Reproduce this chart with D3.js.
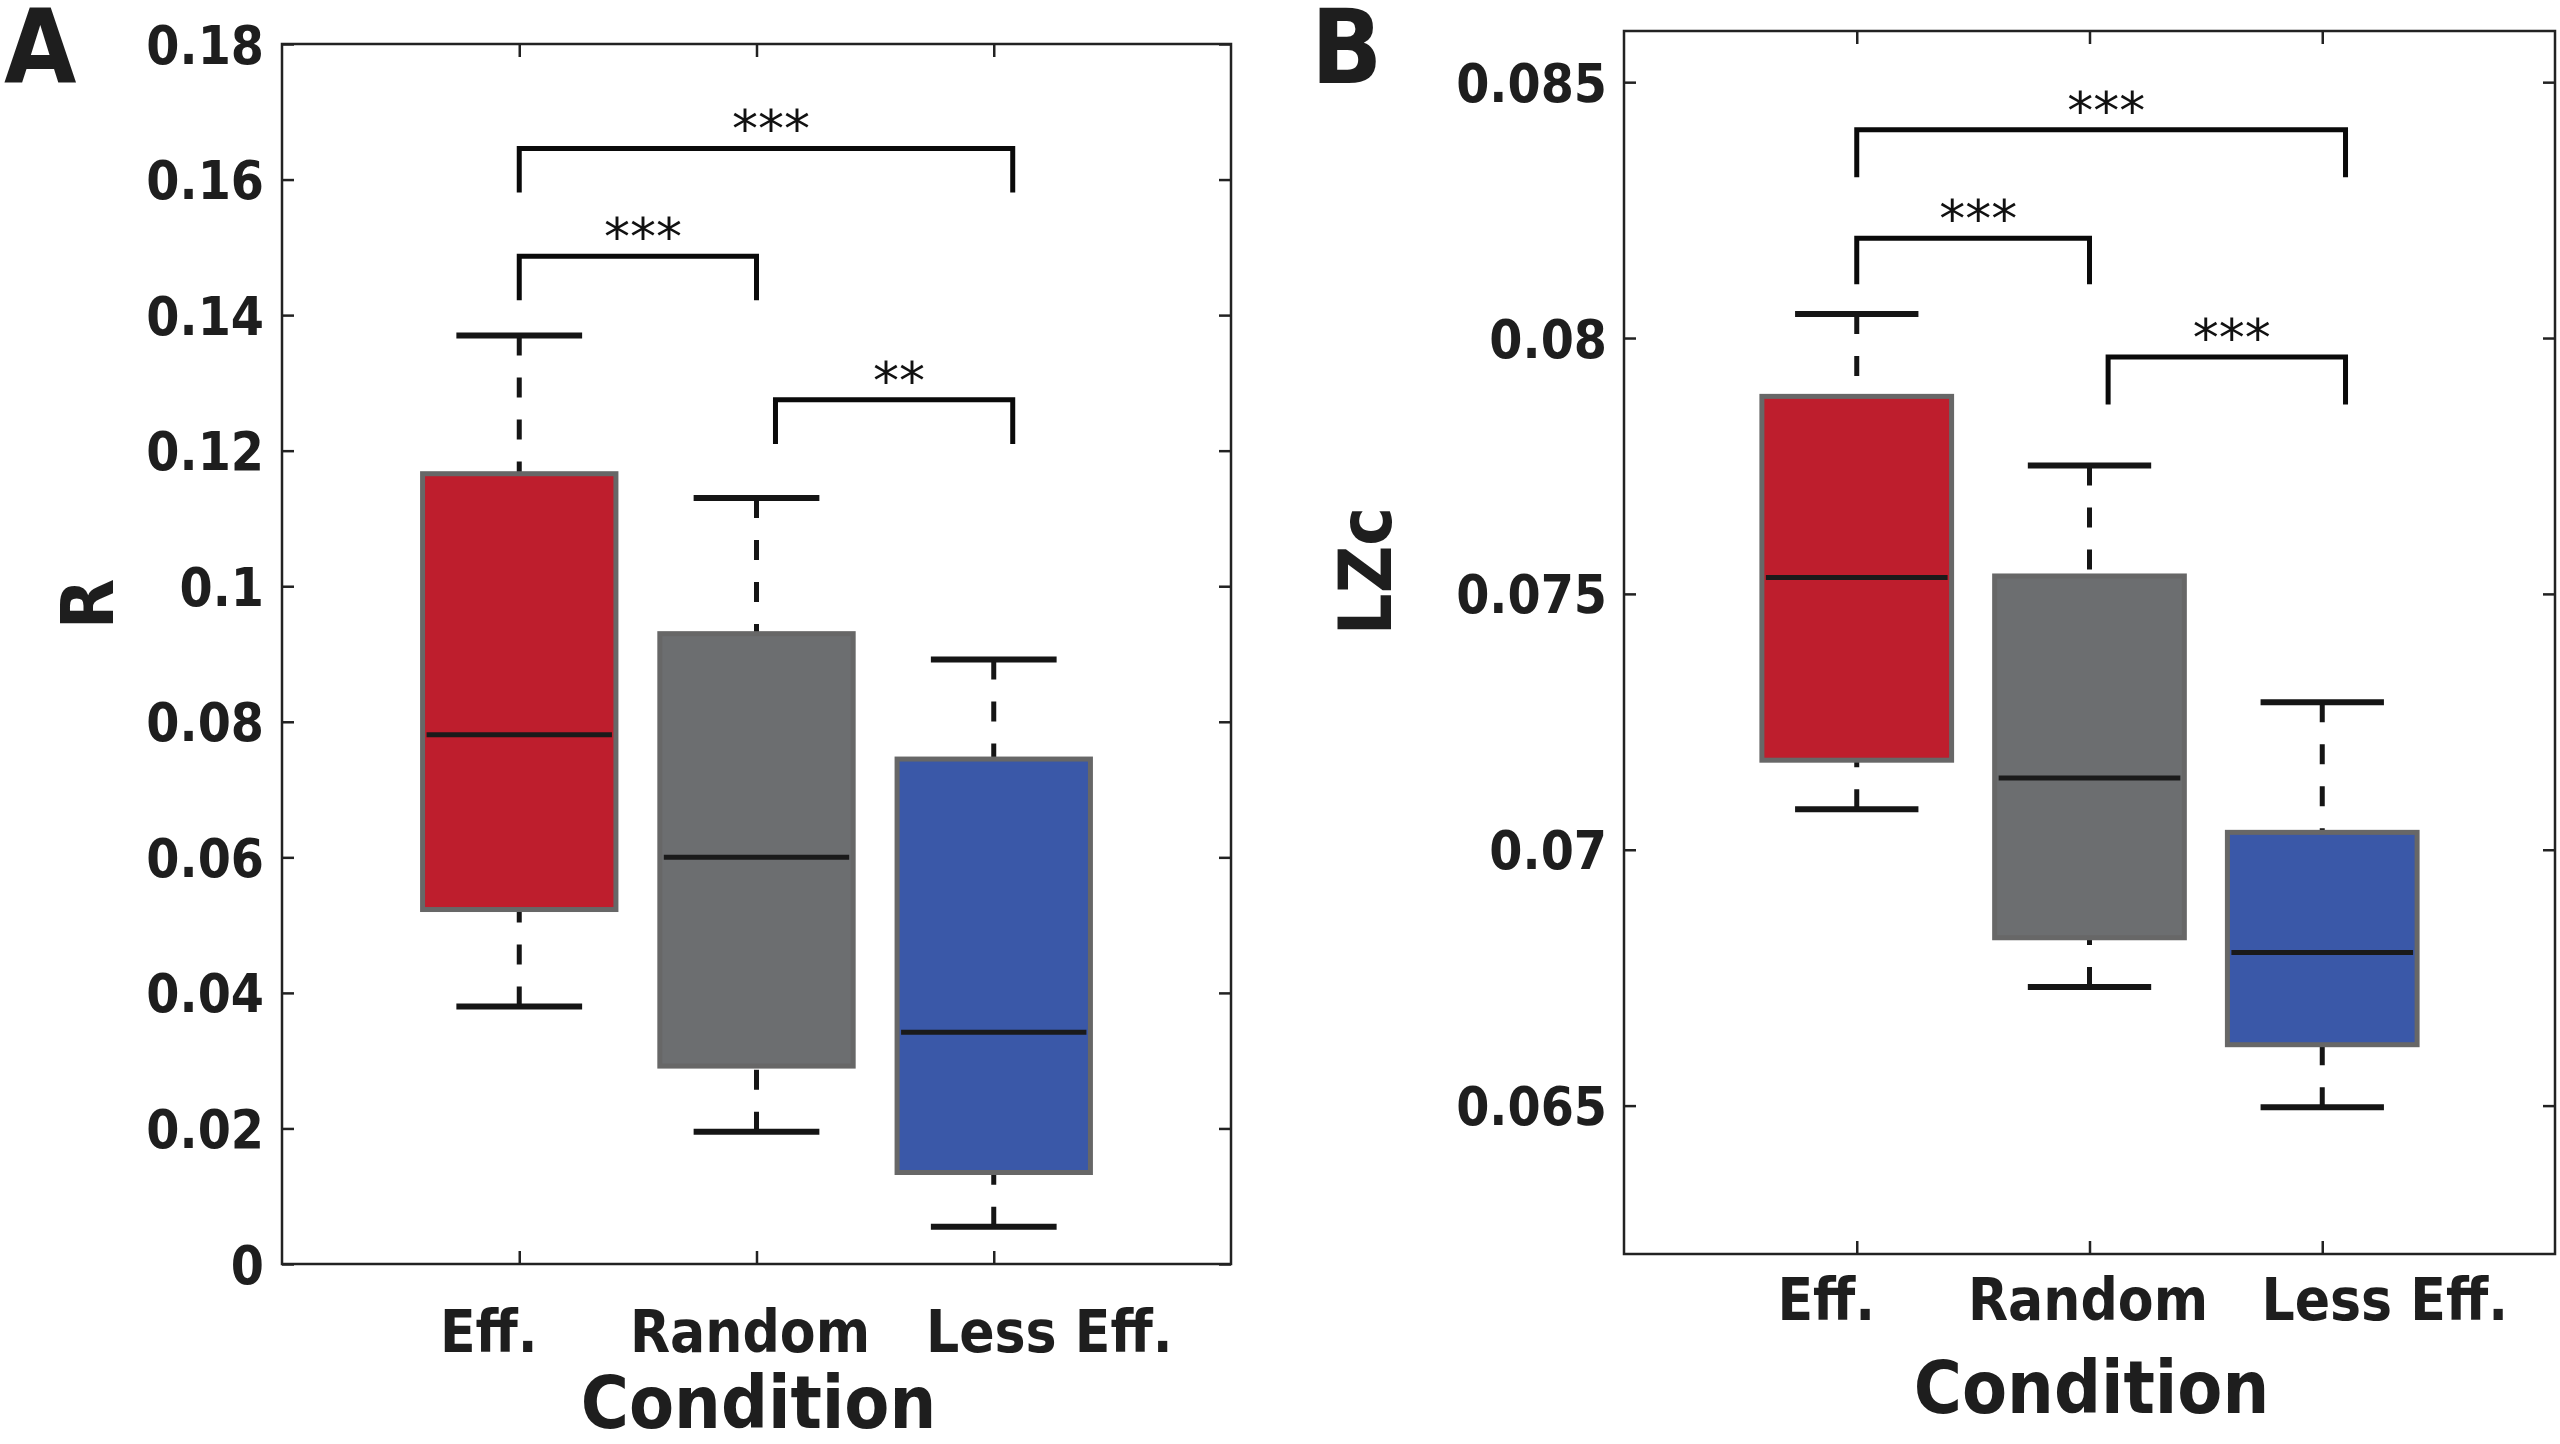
<!DOCTYPE html>
<html>
<head>
<meta charset="utf-8">
<script src="https://cdn.jsdelivr.net/npm/d3@7"></script>
<style>
  html, body { margin: 0; padding: 0; background: #ffffff; }
  svg { display: block; }
  text { font-family: "DejaVu Sans Condensed", "DejaVu Sans", sans-serif; font-stretch: condensed; font-weight: bold; fill: #1e1e1e; }
  .stars { font-family: "DejaVu Sans", sans-serif; font-weight: normal; font-stretch: normal; fill: #111; }
</style>
</head>
<body>
<svg id="chart" width="2560" height="1444"></svg>
<script>
// ---------------- DATA ----------------
const categories = ["Eff.", "Random", "Less Eff."];
const categoryPos = [1, 2, 3];
const boxColors = ["#BE1E2D", "#6C6E70", "#3A58A8"];

// Panel A: R
const rWhiskerHigh = [0.1370, 0.1130, 0.0892];
const rQ3          = [0.1166, 0.0930, 0.0745];
const rMedian      = [0.0781, 0.0600, 0.0342];
const rQ1          = [0.0523, 0.0292, 0.0135];
const rWhiskerLow  = [0.0380, 0.0195, 0.0055];
const rTicks       = [0, 0.02, 0.04, 0.06, 0.08, 0.1, 0.12, 0.14, 0.16, 0.18];
const rTickLabels  = ["0", "0.02", "0.04", "0.06", "0.08", "0.1", "0.12", "0.14", "0.16", "0.18"];
const rDomain      = [0, 0.18];
const rSigFrom     = [1, 1, 2.08];
const rSigTo       = [3.08, 2, 3.08];
const rSigTop      = [0.1646, 0.1487, 0.1275];
const rSigLegEnd   = [0.1581, 0.1422, 0.1210];
const rSigLabels   = ["***", "***", "**"];

// Panel B: LZc
const lzcWhiskerHigh = [0.08047, 0.07751, 0.07288];
const lzcQ3          = [0.07886, 0.07535, 0.07034];
const lzcMedian      = [0.07532, 0.07140, 0.06799];
const lzcQ1          = [0.07175, 0.06828, 0.06619];
const lzcWhiskerLow  = [0.07079, 0.06732, 0.06497];
const lzcTicks       = [0.065, 0.07, 0.075, 0.08, 0.085];
const lzcTickLabels  = ["0.065", "0.07", "0.075", "0.08", "0.085"];
const lzcDomain      = [0.0621, 0.0860];
const lzcSigFrom     = [1, 1, 2.08];
const lzcSigTo       = [3.1, 2, 3.1];
const lzcSigTop      = [0.08407, 0.08195, 0.07963];
const lzcSigLegEnd   = [0.08314, 0.08105, 0.07870];
const lzcSigLabels   = ["***", "***", "***"];

const xDomain = [0, 4];
const xAxisTitle = "Condition";

// ---------------- LAYOUT ----------------
const panels = [
  {
    letter: "A", letterX: 4, letterY: 83,
    left: 282, right: 1231, top: 44, bottom: 1264,
    domain: rDomain, ticks: rTicks, tickLabels: rTickLabels,
    hi: rWhiskerHigh, q3: rQ3, med: rMedian, q1: rQ1, lo: rWhiskerLow,
    sigFrom: rSigFrom, sigTo: rSigTo, sigTop: rSigTop, sigLeg: rSigLegEnd, sigLabels: rSigLabels,
    yTitle: "R", yTitleX: 113, yTitleY: 604,
    yPad: 18, xPad: 47, xLabelShift: [-31, -7, 55],
    xTitleY: 1428
  },
  {
    letter: "B", letterX: 1311, letterY: 83,
    left: 1624, right: 2555, top: 31, bottom: 1254,
    domain: lzcDomain, ticks: lzcTicks, tickLabels: lzcTickLabels,
    hi: lzcWhiskerHigh, q3: lzcQ3, med: lzcMedian, q1: lzcQ1, lo: lzcWhiskerLow,
    sigFrom: lzcSigFrom, sigTo: lzcSigTo, sigTop: lzcSigTop, sigLeg: lzcSigLegEnd, sigLabels: lzcSigLabels,
    yTitle: "LZc", yTitleX: 1391, yTitleY: 571,
    yPad: 17, xPad: 25, xLabelShift: [-31, -2, 62],
    xTitleY: 1413
  }
];

const boxWidth = 0.815;   // in x data units
const capWidth = 0.53;

const svg = d3.select("#chart");

panels.forEach(p => {
  const x = d3.scaleLinear().domain(xDomain).range([p.left, p.right]);
  const y = d3.scaleLinear().domain(p.domain).range([p.bottom, p.top]);
  const g = svg.append("g");

  const data = categories.map((c, i) => ({
    c, i, pos: categoryPos[i], hi: p.hi[i], q3: p.q3[i], med: p.med[i], q1: p.q1[i], lo: p.lo[i], color: boxColors[i]
  }));

  const bx = g.selectAll("g.box").data(data).join("g").attr("class", "box");

  // whiskers (dashed)
  bx.append("line")
    .attr("x1", d => x(d.pos)).attr("x2", d => x(d.pos))
    .attr("y1", d => y(d.hi)).attr("y2", d => y(d.q3))
    .attr("stroke", "#151515").attr("stroke-width", 5).attr("stroke-dasharray", "20,22");
  bx.append("line")
    .attr("x1", d => x(d.pos)).attr("x2", d => x(d.pos))
    .attr("y1", d => y(d.lo)).attr("y2", d => y(d.q1))
    .attr("stroke", "#151515").attr("stroke-width", 5).attr("stroke-dasharray", "20,22");
  // caps
  bx.append("line")
    .attr("x1", d => x(d.pos - capWidth / 2)).attr("x2", d => x(d.pos + capWidth / 2))
    .attr("y1", d => y(d.hi)).attr("y2", d => y(d.hi))
    .attr("stroke", "#151515").attr("stroke-width", 6);
  bx.append("line")
    .attr("x1", d => x(d.pos - capWidth / 2)).attr("x2", d => x(d.pos + capWidth / 2))
    .attr("y1", d => y(d.lo)).attr("y2", d => y(d.lo))
    .attr("stroke", "#151515").attr("stroke-width", 6);
  // box
  bx.append("rect")
    .attr("x", d => x(d.pos - boxWidth / 2))
    .attr("width", d => x(d.pos + boxWidth / 2) - x(d.pos - boxWidth / 2))
    .attr("y", d => y(d.q3))
    .attr("height", d => y(d.q1) - y(d.q3))
    .attr("fill", d => d.color)
    .attr("stroke", "#676767").attr("stroke-width", 5);
  // median
  bx.append("line")
    .attr("x1", d => x(d.pos - boxWidth / 2) + 4).attr("x2", d => x(d.pos + boxWidth / 2) - 4)
    .attr("y1", d => y(d.med)).attr("y2", d => y(d.med))
    .attr("stroke", "#1a1a1a").attr("stroke-width", 5);

  // Significance brackets
  const sig = p.sigLabels.map((l, i) => ({ l, x1: p.sigFrom[i], x2: p.sigTo[i], top: p.sigTop[i], leg: p.sigLeg[i] }));
  const sg = g.selectAll("g.sig").data(sig).join("g").attr("class", "sig");
  sg.append("path")
    .attr("d", d => `M${x(d.x1)},${y(d.leg)}V${y(d.top)}H${x(d.x2)}V${y(d.leg)}`)
    .attr("fill", "none").attr("stroke", "#0a0a0a").attr("stroke-width", 5)
    .attr("stroke-linejoin", "miter").attr("stroke-linecap", "butt");
  sg.append("text").attr("class", "stars")
    .attr("x", d => (x(d.x1) + x(d.x2)) / 2 + 5)
    .attr("y", d => y(d.top) - 1)
    .attr("text-anchor", "middle")
    .attr("font-size", 52)
    .text(d => d.l);

  // Axes
  const yAxis = d3.axisLeft(y).tickValues(p.ticks)
    .tickFormat((d, i) => p.tickLabels[i]).tickSize(-12).tickSizeOuter(0).tickPadding(p.yPad);
  const yg = svg.append("g").attr("transform", `translate(${p.left},0)`).call(yAxis);
  yg.select(".domain").remove();
  yg.selectAll("text").attr("font-size", 53).attr("font-family", null).attr("fill", "#1e1e1e").attr("dy", "0.36em");
  yg.selectAll("line").attr("stroke", "#222").attr("stroke-width", 2.5);

  const yAxisR = d3.axisRight(y).tickValues(p.ticks).tickFormat("").tickSize(-12).tickSizeOuter(0);
  const yr = svg.append("g").attr("transform", `translate(${p.right},0)`).call(yAxisR);
  yr.select(".domain").remove();
  yr.selectAll("line").attr("stroke", "#222").attr("stroke-width", 2.5);

  const xAxis = d3.axisBottom(x).tickValues(categoryPos)
    .tickFormat((d, i) => categories[i]).tickSize(-13).tickSizeOuter(0).tickPadding(p.xPad);
  const xg = svg.append("g").attr("transform", `translate(0,${p.bottom})`).call(xAxis);
  xg.select(".domain").remove();
  xg.selectAll("text").attr("font-size", 58).attr("font-family", null).attr("fill", "#1e1e1e")
    .attr("dx", (d, i) => p.xLabelShift[i]);
  xg.selectAll("line").attr("stroke", "#222").attr("stroke-width", 2.5);

  const xAxisT = d3.axisTop(x).tickValues(categoryPos).tickFormat("").tickSize(-13).tickSizeOuter(0);
  const xt = svg.append("g").attr("transform", `translate(0,${p.top})`).call(xAxisT);
  xt.select(".domain").remove();
  xt.selectAll("line").attr("stroke", "#222").attr("stroke-width", 2.5);

  // Frame
  svg.append("rect")
    .attr("x", p.left).attr("y", p.top)
    .attr("width", p.right - p.left).attr("height", p.bottom - p.top)
    .attr("fill", "none").attr("stroke", "#222").attr("stroke-width", 2.5);

  // Titles
  svg.append("text")
    .attr("transform", `translate(${p.yTitleX},${p.yTitleY}) rotate(-90)`)
    .attr("text-anchor", "middle").attr("font-size", 73)
    .text(p.yTitle);
  svg.append("text")
    .attr("x", (x(categoryPos[0]) + x(categoryPos[2])) / 2 + 2).attr("y", p.xTitleY)
    .attr("text-anchor", "middle").attr("font-size", 73)
    .text(xAxisTitle);
  svg.append("text")
    .attr("x", p.letterX).attr("y", p.letterY)
    .attr("font-size", 104)
    .text(p.letter);
});
</script>
</body>
</html>
